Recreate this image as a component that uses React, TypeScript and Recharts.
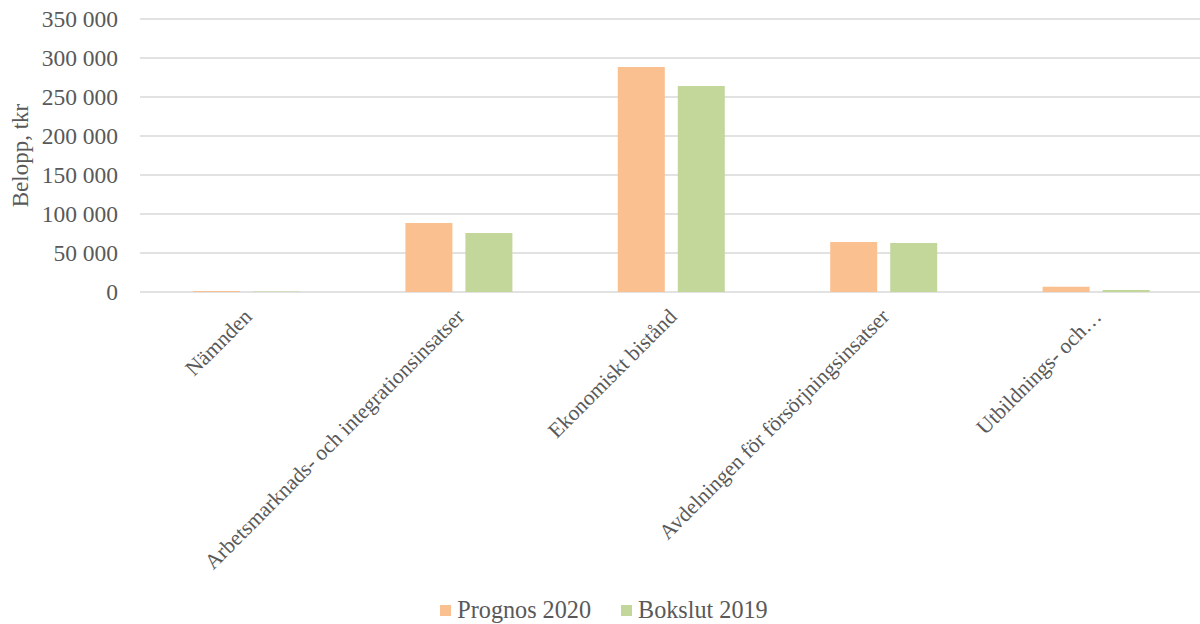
import { Bar, BarChart, CartesianGrid, Label, Legend, XAxis, YAxis } from "recharts";

const categories = [
  "Nämnden",
  "Arbetsmarknads- och integrationsinsatser",
  "Ekonomiskt bistånd",
  "Avdelningen för försörjningsinsatser",
  "Utbildnings- och…",
];
const prognos2020 = [1200, 88500, 288500, 64200, 6800];
const bokslut2019 = [700, 75600, 264000, 62800, 2600];
const yTicks = [0, 50000, 100000, 150000, 200000, 250000, 300000, 350000];

const seriesNames = ["Prognos 2020", "Bokslut 2019"];
const ORANGE = "#FAC090";
const GREEN = "#C4D79B";
const TEXT = "#595959";
const FONT = "'Liberation Serif', 'Times New Roman', serif";

const data = categories.map((name, i) => ({
  name,
  prognos: prognos2020[i],
  bokslut: bokslut2019[i],
}));

const fmt = (v: number) => String(v).replace(/\B(?=(\d{3})+(?!\d))/g, " ");

function XTick({ x, y, payload }: any) {
  const ax = x + 7;
  const ay = y + 26;
  return (
    <text
      x={ax}
      y={ay}
      transform={`rotate(-45, ${ax}, ${ay})`}
      textAnchor="end"
      fill={TEXT}
      fontSize={21.5}
      fontFamily={FONT}
    >
      {payload.value}
    </text>
  );
}

function LegendBox() {
  const colors = [ORANGE, GREEN];
  return (
    <div
      style={{
        display: "flex",
        justifyContent: "center",
        gap: 30,
        fontFamily: FONT,
        fontSize: 24.2,
        color: TEXT,
        paddingLeft: 6,
        paddingTop: 2,
      }}
    >
      {seriesNames.map((n, i) => (
        <div key={n} style={{ display: "flex", alignItems: "center", gap: 6 }}>
          <span style={{ width: 11, height: 11, background: colors[i], display: "inline-block" }} />
          <span>{n}</span>
        </div>
      ))}
    </div>
  );
}

export default function App() {
  return (
    <div style={{ position: "absolute", left: 0, top: 0, width: 1200, height: 624, overflow: "hidden", background: "#fff" }}>
      <BarChart
        width={1202}
        height={624}
        data={data}
        margin={{ top: 19, right: 0, bottom: 0, left: 0 }}
        barSize={47}
        barGap={13}
      >
        <CartesianGrid vertical={false} stroke="#d9d9d9" strokeWidth={1.5} />
        <XAxis
          dataKey="name"
          interval={0}
          height={302}
          axisLine={false}
          tickLine={false}
          tickSize={0}
          tickMargin={0}
          tick={<XTick />}
        />
        <YAxis
          width={140}
          domain={[0, 350000]}
          ticks={yTicks}
          tickFormatter={fmt}
          axisLine={false}
          tickLine={false}
          tickSize={0}
          tickMargin={22}
          tick={{ fill: TEXT, fontSize: 23.5, fontFamily: FONT }}
        >
          <Label
            content={({ viewBox }: any) => {
              const cy = viewBox.y + viewBox.height / 2;
              return (
                <text
                  x={28}
                  y={cy}
                  transform={`rotate(-90, 28, ${cy})`}
                  textAnchor="middle"
                  fill={TEXT}
                  fontSize={23}
                  fontFamily={FONT}
                >
                  Belopp, tkr
                </text>
              );
            }}
          />
        </YAxis>
        <Legend verticalAlign="bottom" height={30} content={<LegendBox />} />
        <Bar dataKey="prognos" name={seriesNames[0]} fill={ORANGE} isAnimationActive={false} />
        <Bar dataKey="bokslut" name={seriesNames[1]} fill={GREEN} isAnimationActive={false} />
      </BarChart>
    </div>
  );
}
